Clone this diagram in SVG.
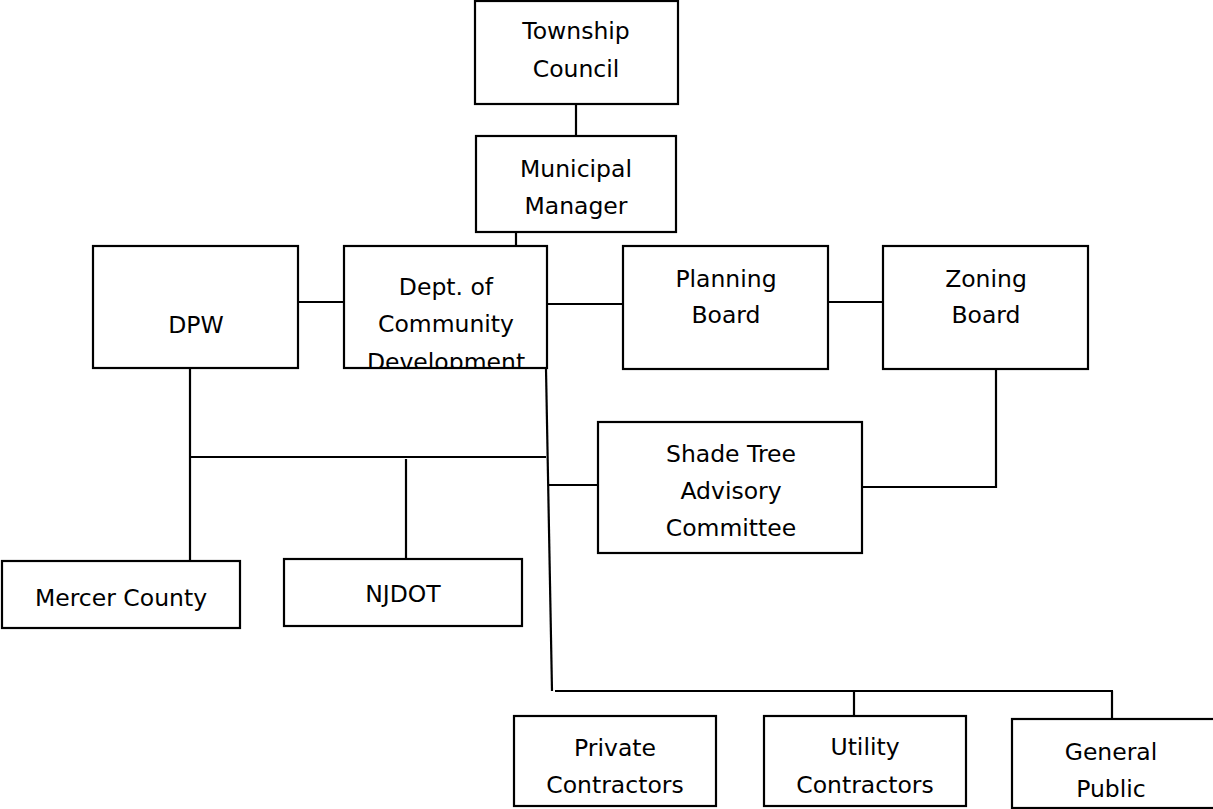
<svg xmlns="http://www.w3.org/2000/svg" width="1213" height="809" viewBox="0 0 1213 809">
<style>
rect{fill:#fff;stroke:#000;stroke-width:2.2}
line{stroke:#000;stroke-width:2.2}
text{font-family:"DejaVu Sans","Liberation Sans",sans-serif;font-size:23.5px;fill:#000;text-anchor:middle}
</style>
<defs><clipPath id="clipDept"><rect x="344" y="246" width="203" height="121"/></clipPath></defs>
<rect x="0" y="0" width="1213" height="809" style="stroke:none"/>
<g id="connectors">
<line x1="576" y1="104" x2="576" y2="136"/>
<line x1="516" y1="232" x2="516" y2="247"/>
<line x1="299" y1="302" x2="345" y2="302"/>
<line x1="548" y1="304" x2="624" y2="304"/>
<line x1="829" y1="302" x2="884" y2="302"/>
<line x1="546" y1="369" x2="552" y2="691"/>
<line x1="190" y1="369" x2="190" y2="562"/>
<line x1="191" y1="457" x2="546" y2="457"/>
<line x1="406" y1="459" x2="406" y2="559"/>
<line x1="549" y1="485" x2="598" y2="485"/>
<line x1="863" y1="487" x2="996" y2="487"/>
<line x1="996" y1="369" x2="996" y2="488"/>
<line x1="555" y1="691" x2="1113" y2="691"/>
<line x1="854" y1="691" x2="854" y2="716"/>
<line x1="1112" y1="691" x2="1112" y2="719"/>
</g>
<g id="township-council"><rect x="475" y="1" width="203" height="103"/><text x="576" y="39">Township</text><text x="576" y="77">Council</text></g>
<g id="municipal-manager"><rect x="476" y="136" width="200" height="96"/><text x="576" y="177">Municipal</text><text x="576" y="214">Manager</text></g>
<g id="dpw"><rect x="93" y="246" width="205" height="122"/><text x="196" y="333">DPW</text></g>
<g id="dept-community-development"><rect x="344" y="246" width="203" height="122"/><text x="446" y="295">Dept. of</text><text x="446" y="332">Community</text><text x="446" y="370" clip-path="url(#clipDept)">Development</text></g>
<g id="planning-board"><rect x="623" y="246" width="205" height="123"/><text x="726" y="287">Planning</text><text x="726" y="323">Board</text></g>
<g id="zoning-board"><rect x="883" y="246" width="205" height="123"/><text x="986" y="287">Zoning</text><text x="986" y="323">Board</text></g>
<g id="shade-tree"><rect x="598" y="422" width="264" height="131"/><text x="731" y="462">Shade Tree</text><text x="731" y="499">Advisory</text><text x="731" y="536">Committee</text></g>
<g id="mercer-county"><rect x="2" y="561" width="238" height="67"/><text x="121" y="606">Mercer County</text></g>
<g id="njdot"><rect x="284" y="559" width="238" height="67"/><text x="403" y="602">NJDOT</text></g>
<g id="private-contractors"><rect x="514" y="716" width="202" height="90"/><text x="615" y="756">Private</text><text x="615" y="793">Contractors</text></g>
<g id="utility-contractors"><rect x="764" y="716" width="202" height="90"/><text x="865" y="755">Utility</text><text x="865" y="793">Contractors</text></g>
<g id="general-public"><rect x="1012" y="719" width="220" height="89"/><text x="1111" y="760">General</text><text x="1111" y="797">Public</text></g>
</svg>
